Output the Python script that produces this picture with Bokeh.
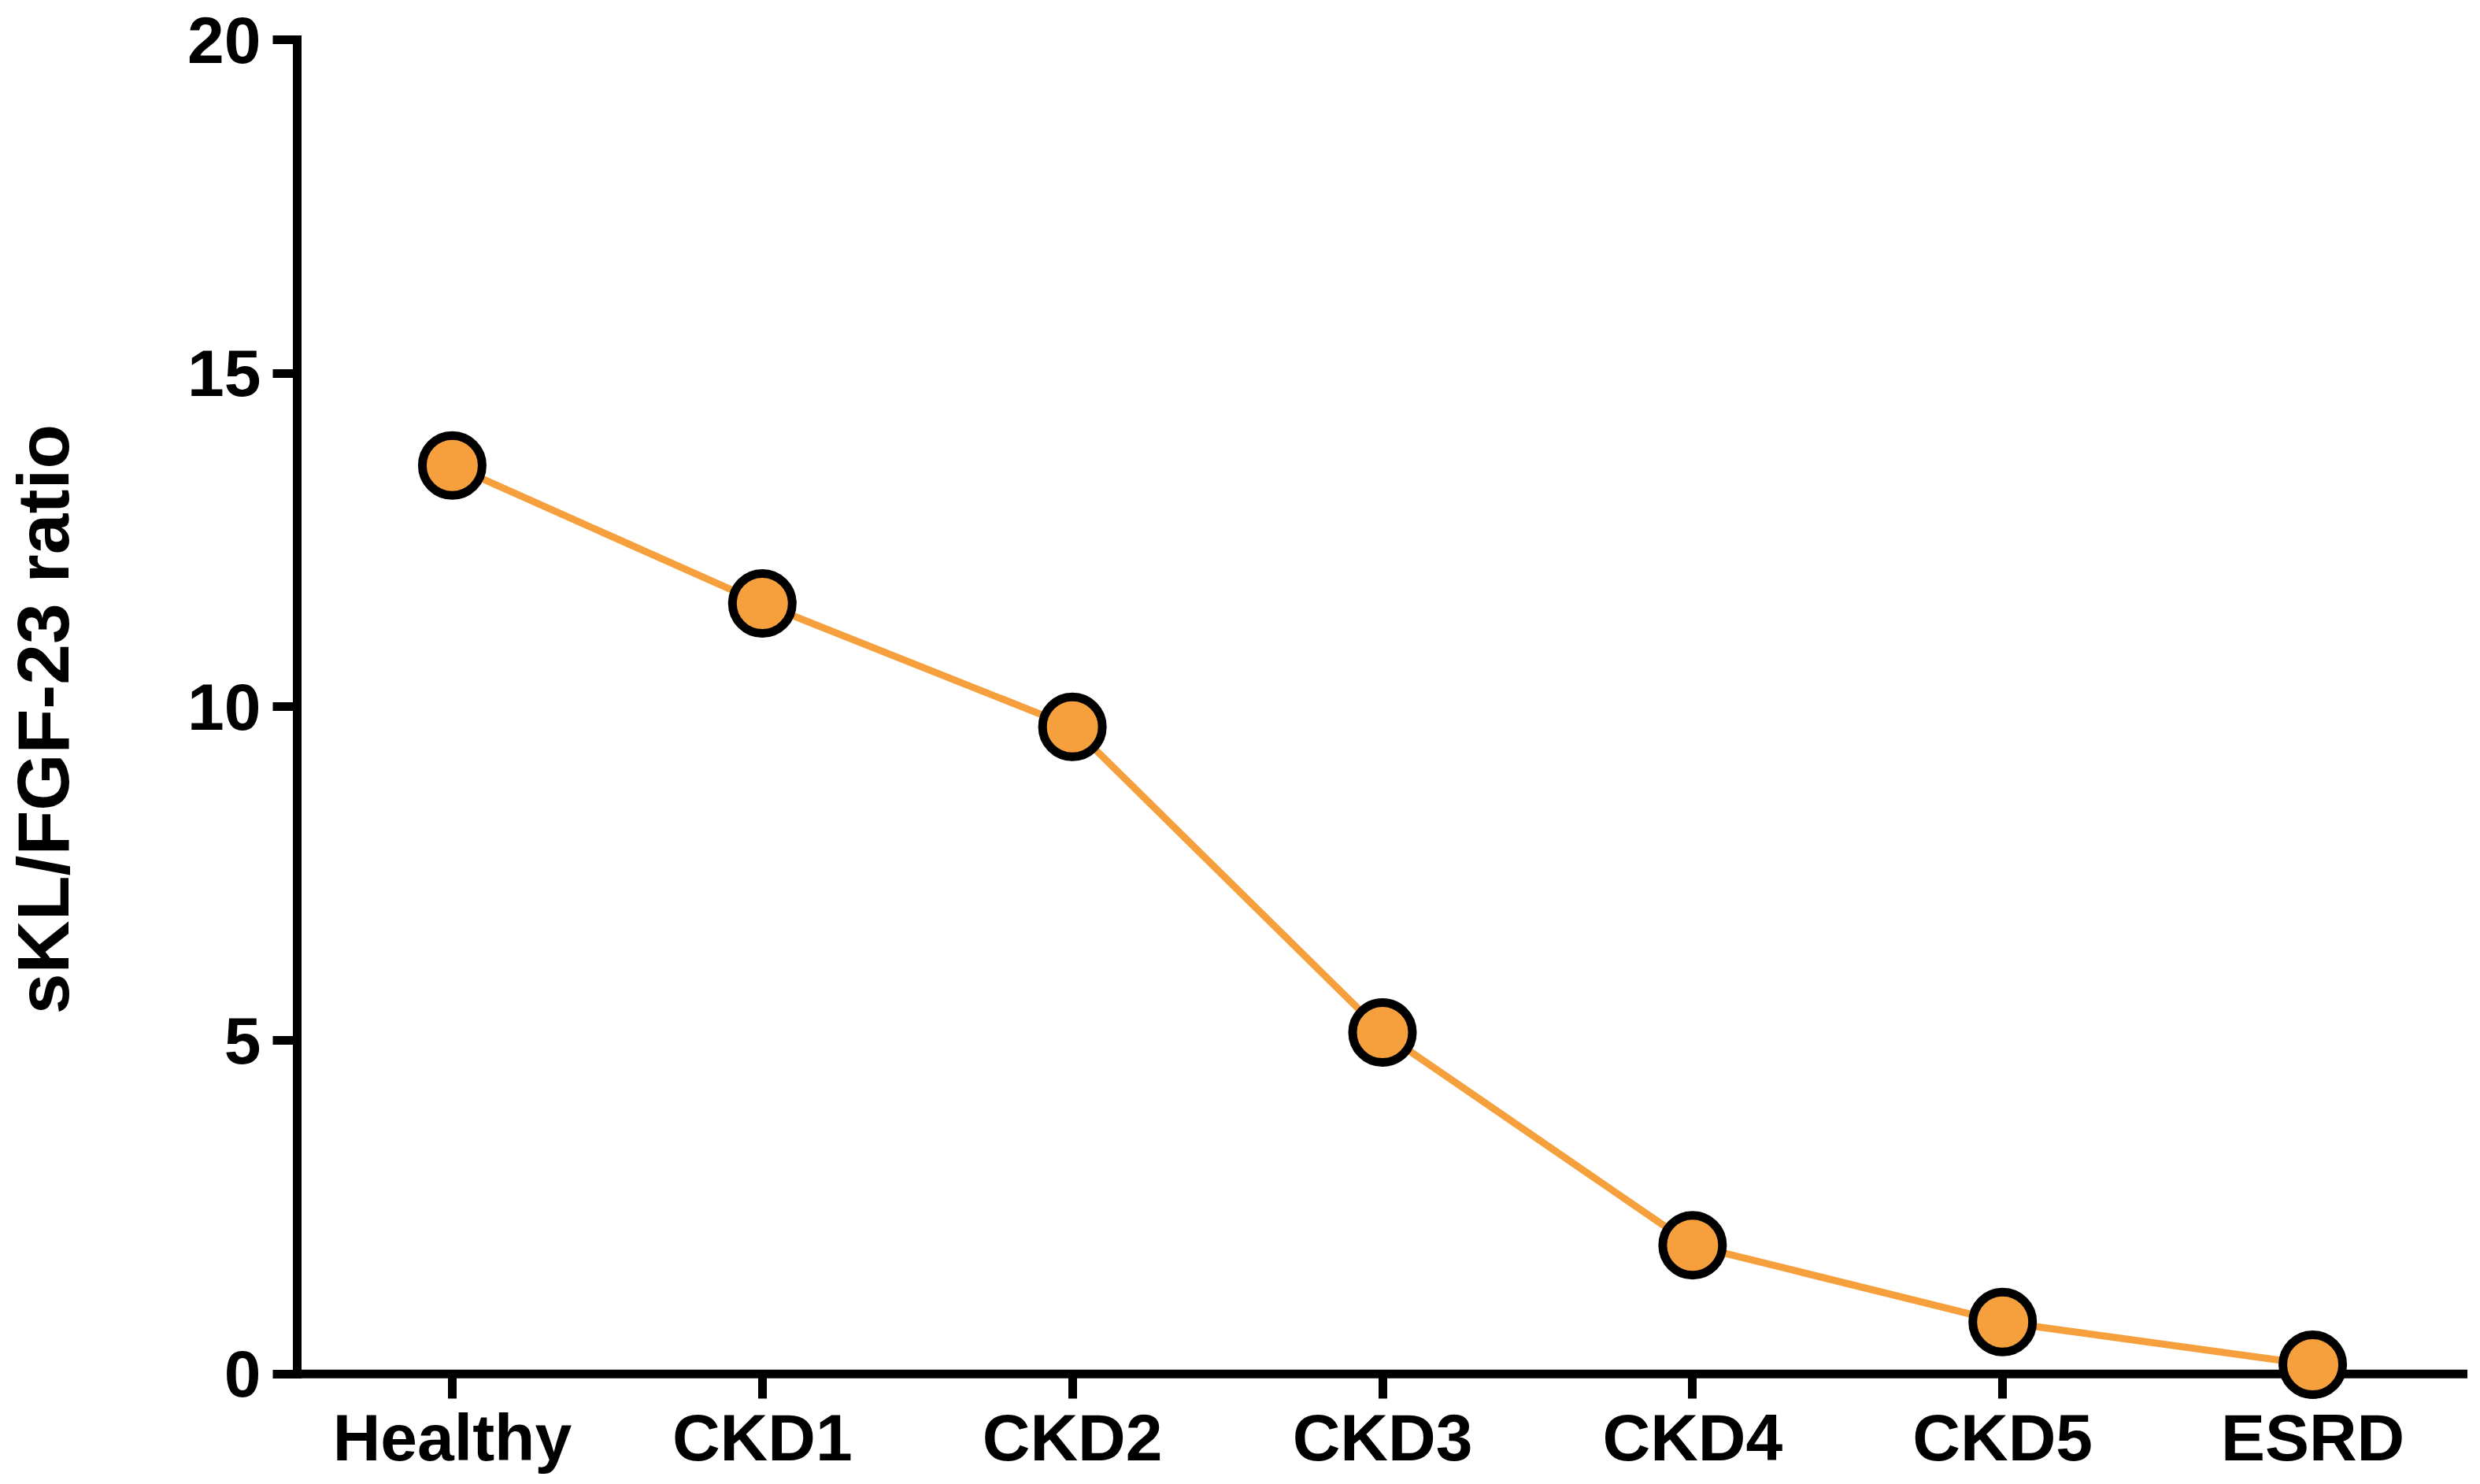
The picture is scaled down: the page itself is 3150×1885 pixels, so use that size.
from bokeh.plotting import figure
from bokeh.models import FactorRange, Range1d, FixedTicker, Span
from bokeh.embed import file_html
from bokeh.resources import INLINE

categories = ["Healthy", "CKD1", "CKD2", "CKD3", "CKD4", "CKD5", "ESRD"]
ratio = [13.62, 11.55, 9.7, 5.12, 1.93, 0.78, 0.14]
y_ticks = [0, 5, 10, 15, 20]

ORANGE = "#F6A03D"
FONT = "Liberation Sans"

p = figure(x_range=FactorRange(*categories, range_padding=0),
           y_range=Range1d(-0.3675, 20),
           width=3134, height=1876,
           output_backend="svg", toolbar_location=None,
           min_border_left=376, min_border_right=0,
           min_border_top=50, min_border_bottom=100)
p.outline_line_color = None
p.grid.visible = False

# y axis
ya = p.yaxis[0]
ya.bounds = (0, 20)
ya.ticker = FixedTicker(ticks=y_ticks, minor_ticks=[])
ya.axis_line_width = 11
ya.axis_line_color = "black"
ya.axis_line_cap = "square"
ya.major_tick_line_width = 11
ya.major_tick_out = 31
ya.major_tick_in = 0
ya.minor_tick_out = 0
ya.minor_tick_in = 0
ya.major_label_standoff = 15
ya.major_label_text_font = FONT
ya.major_label_text_font_style = "bold"
ya.major_label_text_font_size = "84px"
ya.major_label_text_color = "black"
ya.axis_label = "sKL/FGF-23 ratio"
ya.axis_label_text_font = FONT
ya.axis_label_text_font_style = "bold"
ya.axis_label_text_font_size = "93px"
ya.axis_label_text_color = "black"
ya.axis_label_standoff = 128

# x axis
xa = p.xaxis[0]
xa.axis_line_color = None
xa.major_tick_line_width = 11
xa.major_tick_in = 31
xa.major_tick_out = 0
xa.major_label_standoff = 2
xa.major_label_text_font = FONT
xa.major_label_text_font_style = "bold"
xa.major_label_text_font_size = "84px"
xa.major_label_text_color = "black"

# baseline at y = 0
p.add_layout(Span(location=0, dimension="width", line_color="black", line_width=11))

p.line(categories, ratio, line_color=ORANGE, line_width=9)
p.scatter(categories, ratio, size=76, fill_color=ORANGE, line_color="black",
          line_width=11, level="overlay")

open("out.html", "w").write(file_html(p, INLINE))
